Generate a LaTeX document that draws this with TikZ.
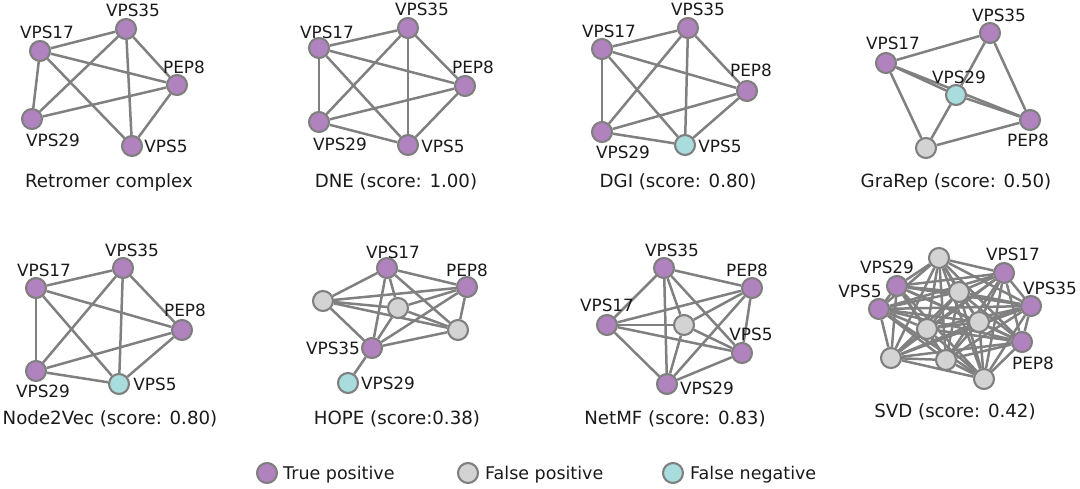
\documentclass[tikz,border=0pt]{standalone}
\usepackage{fontspec}
\setmainfont{DejaVu Sans}
\usetikzlibrary{backgrounds}
\definecolor{tpc}{HTML}{B083BE}
\definecolor{fpc}{HTML}{D3D3D3}
\definecolor{fnc}{HTML}{A9DCDC}
\definecolor{bordc}{HTML}{7F7F7F}
\definecolor{edgec}{HTML}{808080}
\definecolor{txtc}{HTML}{1A1A1A}
\begin{document}
\begin{tikzpicture}[x=1pt,y=-1pt,
  vtx/.style={circle,draw=bordc,line width=2.1pt,minimum size=20pt,inner sep=0pt},
  tp/.style={vtx,fill=tpc}, fp/.style={vtx,fill=fpc}, fn/.style={vtx,fill=fnc},
  lbl/.style={inner sep=0pt,font=\fontsize{16.9}{20}\selectfont,text=txtc},
  ttl/.style={inner sep=0pt,anchor=base,font=\fontsize{18.2}{22}\selectfont,text=txtc},
  leg/.style={inner sep=0pt,anchor=base west,font=\fontsize{17.5}{21}\selectfont,text=txtc},
  edge/.style={draw=edgec,line width=2.5pt}]
\useasboundingbox (0,0) rectangle (1080,488);

% ---------- Panel A: Retromer complex
\node[tp] (A1) at (40,51) {};
\node[tp] (A2) at (126,29) {};
\node[tp] (A3) at (177,85) {};
\node[tp] (A4) at (32,119) {};
\node[tp] (A5) at (132,146) {};
\node[lbl] (Al1) at (47,32) {VPS17};
\node[lbl] (Al2) at (133,10) {VPS35};
\node[lbl] (Al3) at (184,67) {PEP8};
\node[lbl] (Al4) at (53,140) {VPS29};
\node[lbl] (Al5) at (166,146) {VPS5};
\node[ttl] (At) at (109,187.5) {Retromer complex};

% ---------- Panel B: DNE
\node[tp] (B1) at (319,48) {};
\node[tp] (B2) at (408,28) {};
\node[tp] (B3) at (465,86) {};
\node[tp] (B4) at (319,122) {};
\node[tp] (B5) at (408,145) {};
\node[lbl] (Bl1) at (327,32) {VPS17};
\node[lbl] (Bl2) at (422,9) {VPS35};
\node[lbl] (Bl3) at (473,67) {PEP8};
\node[lbl] (Bl4) at (340,144) {VPS29};
\node[lbl] (Bl5) at (443,146) {VPS5};
\node[ttl] (Bt) at (396,187.5) {DNE (score: 1.00)};

% ---------- Panel C: DGI
\node[tp] (C1) at (602,49) {};
\node[tp] (C2) at (688,28) {};
\node[tp] (C3) at (747,91) {};
\node[tp] (C4) at (602,132) {};
\node[fn] (C5) at (685,145) {};
\node[lbl] (Cl1) at (609,31) {VPS17};
\node[lbl] (Cl2) at (698,9) {VPS35};
\node[lbl] (Cl3) at (751,70) {PEP8};
\node[lbl] (Cl4) at (623,152) {VPS29};
\node[lbl] (Cl5) at (720,146) {VPS5};
\node[ttl] (Ct) at (678,187.5) {DGI (score: 0.80)};

% ---------- Panel D: GraRep
\node[tp] (D1) at (886,63) {};
\node[tp] (D2) at (990,33) {};
\node[fn] (D3) at (956,95) {};
\node[tp] (D4) at (1030,120) {};
\node[fp] (D5) at (926,148) {};
\node[lbl] (Dl1) at (893,43) {VPS17};
\node[lbl] (Dl2) at (999,15) {VPS35};
\node[lbl] (Dl3) at (959,77) {VPS29};
\node[lbl] (Dl4) at (1028,140) {PEP8};
\node[ttl] (Dt) at (956,187.5) {GraRep (score: 0.50)};

% ---------- Panel E: Node2Vec
\node[tp] (E1) at (36,288) {};
\node[tp] (E2) at (123,268) {};
\node[tp] (E3) at (182,330) {};
\node[tp] (E4) at (36,371) {};
\node[fn] (E5) at (119,384) {};
\node[lbl] (El1) at (44,270) {VPS17};
\node[lbl] (El2) at (132,250) {VPS35};
\node[lbl] (El3) at (185,310) {PEP8};
\node[lbl] (El4) at (43,391) {VPS29};
\node[lbl] (El5) at (155,384) {VPS5};
\node[ttl] (Et) at (110,424.5) {Node2Vec (score: 0.80)};

% ---------- Panel F: HOPE
\node[tp] (F1) at (387,268) {};
\node[tp] (F2) at (467,287) {};
\node[fp] (F3) at (323,301) {};
\node[fp] (F4) at (398,308) {};
\node[fp] (F5) at (458,330) {};
\node[tp] (F6) at (372,348) {};
\node[fn] (F7) at (348,383) {};
\node[lbl] (Fl1) at (393,252) {VPS17};
\node[lbl] (Fl2) at (467,270) {PEP8};
\node[lbl] (Fl6) at (333,348) {VPS35};
\node[lbl] (Fl7) at (388,383) {VPS29};
\node[ttl] (Ft) at (397,424.5) {HOPE (score:0.38)};

% ---------- Panel G: NetMF
\node[tp] (G1) at (664,268) {};
\node[tp] (G2) at (752,288) {};
\node[tp] (G3) at (607,325) {};
\node[fp] (G4) at (684,325) {};
\node[tp] (G5) at (742,353) {};
\node[tp] (G6) at (667,384) {};
\node[lbl] (Gl1) at (672,250) {VPS35};
\node[lbl] (Gl2) at (747,270) {PEP8};
\node[lbl] (Gl3) at (607,305) {VPS17};
\node[lbl] (Gl5) at (751,334) {VPS5};
\node[lbl] (Gl6) at (707,388) {VPS29};
\node[ttl] (Gt) at (675,424.5) {NetMF (score: 0.83)};

% ---------- Panel H: SVD
\node[fp] (H1) at (939,258) {};
\node[tp] (H2) at (1004,273) {};
\node[tp] (H3) at (897,286) {};
\node[fp] (H4) at (959,292) {};
\node[tp] (H5) at (1031,306) {};
\node[tp] (H6) at (879,309) {};
\node[fp] (H7) at (979,322) {};
\node[fp] (H8) at (927,329) {};
\node[tp] (H9) at (1022,342) {};
\node[fp] (H10) at (891,358) {};
\node[fp] (H11) at (946,360) {};
\node[fp] (H12) at (984,379) {};
\node[lbl] (Hl2) at (1013,254) {VPS17};
\node[lbl] (Hl3) at (887,267) {VPS29};
\node[lbl] (Hl6) at (860,291) {VPS5};
\node[lbl] (Hl5) at (1050,288) {VPS35};
\node[lbl] (Hl9) at (1033,363) {PEP8};
\node[ttl] (Ht) at (955,417.5) {SVD (score: 0.42)};

% ---------- Legend
\node[tp] (L1) at (267,473) {};
\node[leg] (Lt1) at (283,479.3) {True positive};
\node[fp] (L2) at (468,473) {};
\node[leg] (Lt2) at (485,479.3) {False positive};
\node[fn] (L3) at (673,473) {};
\node[leg] (Lt3) at (690,479.3) {False negative};

% ---------- Edges
\begin{pgfonlayer}{background}
\foreach \a/\b in {1/2,1/3,1/4,1/5,2/3,2/4,2/5,3/4,3/5}
  \draw[edge] (A\a) -- (A\b);
\foreach \p in {B,C,E}{
  \foreach \a/\b in {1/2,1/3,1/4,1/5,2/3,2/4,2/5,3/4,3/5,4/5}
    \draw[edge] (\p\a) -- (\p\b);
}
\foreach \a/\b in {1/2,1/3,1/4,1/5,2/3,2/4,3/4,3/5,5/4}
  \draw[edge] (D\a) -- (D\b);
\foreach \p in {F,G}{
  \foreach \i in {1,...,5}{
    \pgfmathtruncatemacro\s{\i+1}
    \foreach \j in {\s,...,6}{\draw[edge] (\p\i) -- (\p\j);}
  }
}
\draw[edge] (F6) -- (F7);
\foreach \i in {1,...,11}{
  \pgfmathtruncatemacro\s{\i+1}
  \foreach \j in {\s,...,12}{\draw[edge] (H\i) -- (H\j);}
}
\end{pgfonlayer}
\end{tikzpicture}
\end{document}
